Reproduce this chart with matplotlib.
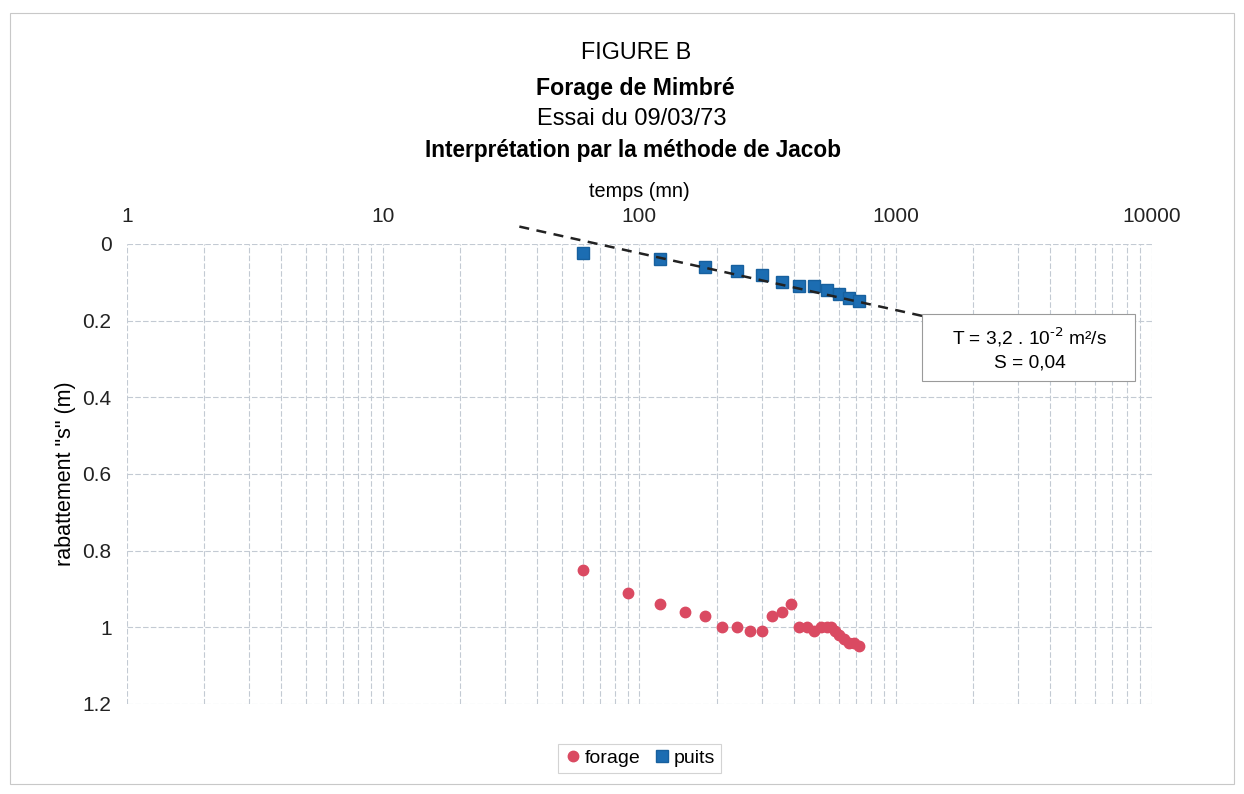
import numpy as np
import matplotlib.pyplot as plt
from matplotlib.patches import Rectangle

plt.rcParams['font.family'] = ['Liberation Sans', 'DejaVu Sans']

# =====================================================================
# DATA
# =====================================================================

puits_t = [60, 120, 180, 240, 300, 360, 420, 480, 540, 600, 660, 720]
puits_s = [0.025, 0.04, 0.06, 0.07, 0.08, 0.10, 0.11, 0.11, 0.12, 0.13, 0.14, 0.15]

forage_t = [60, 90, 120, 150, 180, 210, 240, 270, 300, 330, 360, 390,
            420, 450, 480, 510, 540, 560, 580, 600, 630, 660, 690, 720]
forage_s = [0.85, 0.91, 0.94, 0.96, 0.97, 1.0, 1.0, 1.01, 1.01, 0.97, 0.96, 0.94,
            1.0, 1.0, 1.01, 1.0, 1.0, 1.0, 1.01, 1.02, 1.03, 1.04, 1.04, 1.05]

# Jacob straight line (end points)
jacob_t = [34, 1270]
jacob_s = [-0.045, 0.188]

x_ticks = [1, 10, 100, 1000, 10000]
y_ticks = [0, 0.2, 0.4, 0.6, 0.8, 1, 1.2]
y_labels = ["0", "0.2", "0.4", "0.6", "0.8", "1", "1.2"]

# =====================================================================
# FIGURE
# =====================================================================

fig = plt.figure(figsize=(12.44, 7.94), dpi=100)
ax = fig.add_axes([0.102, 0.1134, 0.824, 0.5795])

grid_col = "#c3cad3"

ax.plot(forage_t, forage_s, linestyle="none", marker="o", markersize=7.5,
        color="#da4a62", label="forage", zorder=3)
ax.plot(puits_t, puits_s, linestyle="none", marker="s", markersize=8.2,
        color="#1c6db2", markeredgecolor="#17609e", label="puits", zorder=3)
ax.plot(jacob_t, jacob_s, color="#222222", linestyle=(0, (4, 3)),
        linewidth=1.8, clip_on=False, zorder=4)

ax.set_xscale("log")
ax.set_xlim(1, 10000)
ax.set_ylim(1.2, 0)
ax.set_xticks(x_ticks)
ax.set_xticklabels([str(v) for v in x_ticks])
ax.set_yticks(y_ticks)
ax.set_yticklabels(y_labels)
ax.xaxis.tick_top()
ax.xaxis.set_label_position("top")
ax.tick_params(axis="both", which="both", length=0, labelsize=15, colors="#222222")
ax.tick_params(axis="x", pad=13)
ax.tick_params(axis="y", pad=11)
ax.set_xlabel("temps (mn)", fontsize=14.3, labelpad=7)
ax.set_ylabel('rabattement "s" (m)', fontsize=15.5, labelpad=5)

ax.grid(True, which="major", axis="both", color=grid_col,
        linestyle=(0, (5, 2)), linewidth=0.8)
ax.grid(True, which="minor", axis="x", color=grid_col,
        linestyle=(0, (5, 2)), linewidth=0.8)
for sp in ax.spines.values():
    sp.set_visible(False)

# titles
fig.text(0.511, 0.934, "FIGURE B", ha="center", va="center", fontsize=16.8)
fig.text(0.511, 0.889, "Forage de Mimbré", ha="center", va="center",
         fontsize=16.7, fontweight="bold")
fig.text(0.508, 0.850, "Essai du 09/03/73", ha="center", va="center", fontsize=17)
fig.text(0.509, 0.811, "Interprétation par la méthode de Jacob", ha="center",
         va="center", fontsize=16.3, fontweight="bold")

# result box
fig.patches.append(Rectangle((922 / 1244, 1 - 381 / 794), 213 / 1244, 67 / 794,
                             transform=fig.transFigure, facecolor="white",
                             edgecolor="#9a9a9a", linewidth=0.8, zorder=5))
fig.text(1030 / 1244, 1 - 337 / 794, r"T = 3,2 . 10$^{\text{-}2}$ m²/s",
         ha="center", va="center", fontsize=13.8, zorder=6)
fig.text(1030 / 1244, 1 - 363 / 794, "S = 0,04", ha="center", va="center",
         fontsize=13.8, zorder=6)

leg = fig.legend(loc="center", bbox_to_anchor=(0.514, 0.045), ncol=2,
                 fontsize=14, frameon=True, handletextpad=0.1,
                 columnspacing=0.6, handlelength=1.0, borderpad=0.3,
                 fancybox=False)
leg.get_frame().set_edgecolor("#c8c8c8")
leg.get_frame().set_linewidth(0.8)

# outer frame
fig.patches.append(Rectangle((0.008, 0.012), 0.984, 0.972,
                             transform=fig.transFigure, fill=False,
                             edgecolor="#c8c8c8", linewidth=0.8))

fig.savefig("out.png", dpi=100)
